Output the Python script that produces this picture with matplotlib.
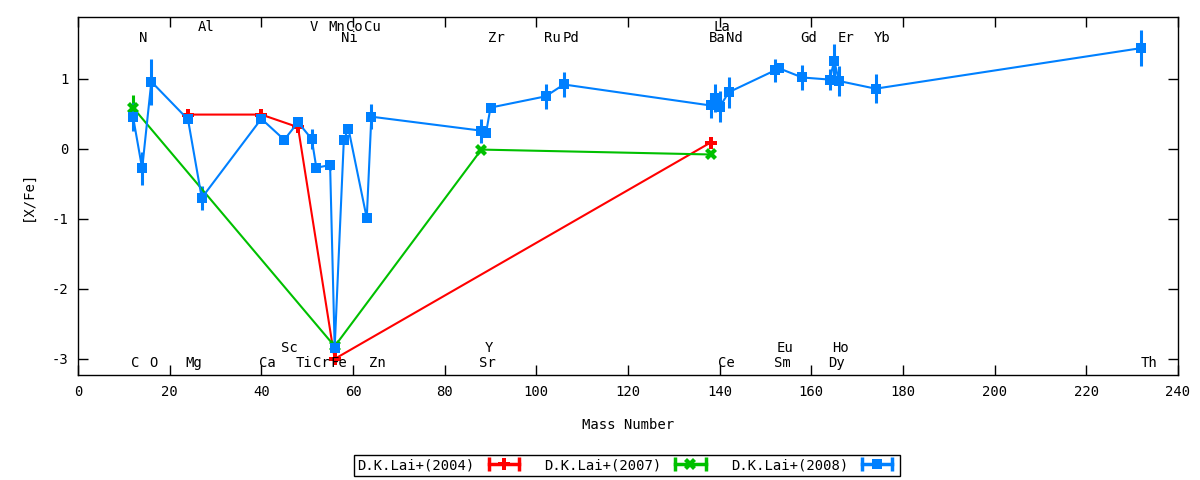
import numpy as np
import matplotlib
matplotlib.use("Agg")
import matplotlib.pyplot as plt
from matplotlib.lines import Line2D
from matplotlib.legend_handler import HandlerLine2D, HandlerTuple

# D.K.Lai+(2004)
mass_04 = [24, 40, 48, 56, 138]
val_04 = [0.49, 0.49, 0.31, -3.00, 0.09]
err_04 = [0.03, 0.03, 0.03, 0.03, 0.03]

# D.K.Lai+(2007)
mass_07 = [12, 56, 88, 138]
val_07 = [0.59, -2.82, -0.01, -0.08]
err_07 = [0.18, 0.03, 0.02, 0.02]

# D.K.Lai+(2008)
mass_08 = [12, 14, 16, 24, 27, 40, 45, 48, 51, 52, 55, 56, 58, 59, 63, 64,
           88, 89, 90, 102, 106, 138, 139, 140, 142, 152, 153, 158,
           164, 165, 166, 174, 232]
val_08 = [0.46, -0.28, 0.96, 0.42, -0.70, 0.43, 0.13, 0.38, 0.14, -0.27,
          -0.23, -2.84, 0.13, 0.29, -0.99, 0.46,
          0.26, 0.22, 0.59, 0.75, 0.92, 0.62, 0.73, 0.60, 0.81, 1.12, 1.15,
          1.02, 0.99, 1.26, 0.97, 0.86, 1.44]
err_08 = [0.20, 0.24, 0.33, 0.05, 0.17, 0.04, 0.04, 0.05, 0.14, 0.04,
          0.07, 0.04, 0.04, 0.07, 0.04, 0.18,
          0.17, 0.04, 0.04, 0.18, 0.18, 0.18, 0.20, 0.22, 0.22, 0.16, 0.04,
          0.18, 0.15, 0.24, 0.22, 0.21, 0.26]

# element labels: (name, x, y)
labels_top = [("N", 14.2, 1.59), ("Ni", 59.1, 1.59), ("Zr", 91.2, 1.59),
              ("Ru", 103.4, 1.59), ("Pd", 107.5, 1.59), ("Ba", 139.5, 1.59),
              ("Nd", 143.3, 1.59), ("Gd", 159.4, 1.59), ("Er", 167.5, 1.59),
              ("Yb", 175.5, 1.59),
              ("Al", 28.0, 1.735), ("V", 51.4, 1.735), ("Mn", 56.4, 1.735),
              ("Co", 60.3, 1.735), ("Cu", 64.2, 1.735), ("La", 140.5, 1.735)]
labels_bot = [("C", 12.4, -3.06), ("O", 16.4, -3.06), ("Mg", 25.3, -3.06),
              ("Ca", 41.4, -3.06), ("Ti", 49.4, -3.06), ("Cr", 53.0, -3.06),
              ("Fe", 56.8, -3.06), ("Zn", 65.4, -3.06), ("Sr", 89.3, -3.06),
              ("Ce", 141.4, -3.06), ("Sm", 153.6, -3.06), ("Dy", 165.4, -3.06),
              ("Th", 233.7, -3.06),
              ("Sc", 46.2, -2.85), ("Y", 89.6, -2.85), ("Eu", 154.3, -2.85),
              ("Ho", 166.3, -2.85)]

plt.rcParams['font.family'] = ['DejaVu Sans Mono']
plt.rcParams['font.size'] = 10
plt.rcParams['axes.unicode_minus'] = False

fig = plt.figure(figsize=(12, 4.8), dpi=100)
ax = fig.add_axes([0.065, 0.21875, 0.9167, 0.746])

red = '#ff0000'
green = '#00c000'
blue = '#0080ff'

ax.errorbar(mass_04, val_04, yerr=err_04, color=red, lw=1.5, marker='P',
            ms=8, mew=0, elinewidth=2.2, capsize=3, capthick=2.2)
ax.errorbar(mass_07, val_07, yerr=err_07, color=green, lw=1.5, marker='X',
            ms=8, mew=0, elinewidth=2.2, capsize=3, capthick=2.2)
ax.errorbar(mass_08, val_08, yerr=err_08, color=blue, lw=1.5, marker='s',
            ms=7.5, mew=0, elinewidth=2.2, capsize=3, capthick=2.2)

for name, x, y in labels_top + labels_bot:
    ax.text(x, y, name, ha='center', va='center', fontsize=10)

ax.set_xlim(0, 240)
ax.set_ylim(-3.23, 1.885)
ax.set_xticks(np.arange(0, 241, 20))
ax.set_yticks([-3, -2, -1, 0, 1])
ax.tick_params(direction='in', top=True, right=True, length=7, width=1,
               pad=7, labelsize=10)
for s in ax.spines.values():
    s.set_linewidth(1)
ax.set_xlabel("Mass Number", labelpad=14)
ax.set_ylabel("[X/Fe]", labelpad=12)

# legend samples: horizontal bar with caps, marker in the middle
handles = []
hmap = {}
for c, m, ms in [(red, 'P', 8), (green, 'X', 8), (blue, 's', 7.5)]:
    caps = Line2D([], [], color=c, lw=2.5, marker='|', ms=10, mew=2.5)
    mk = Line2D([], [], color=c, lw=0, marker=m, ms=ms, mew=0)
    hmap[caps] = HandlerLine2D(numpoints=2)
    hmap[mk] = HandlerLine2D(numpoints=1)
    handles.append((caps, mk))
hmap[tuple] = HandlerTuple(ndivide=1)
leg = fig.legend(handles, ["D.K.Lai+(2004)", "D.K.Lai+(2007)", "D.K.Lai+(2008)"],
                 handler_map=hmap, loc='center', bbox_to_anchor=(0.5225, 0.031),
                 ncol=3, markerfirst=False, fancybox=False, framealpha=1,
                 edgecolor='black', handlelength=2.8, handletextpad=0.7,
                 columnspacing=1.5, borderpad=0.25, fontsize=10)
leg.get_frame().set_linewidth(1)

fig.savefig("out.png", dpi=100)
